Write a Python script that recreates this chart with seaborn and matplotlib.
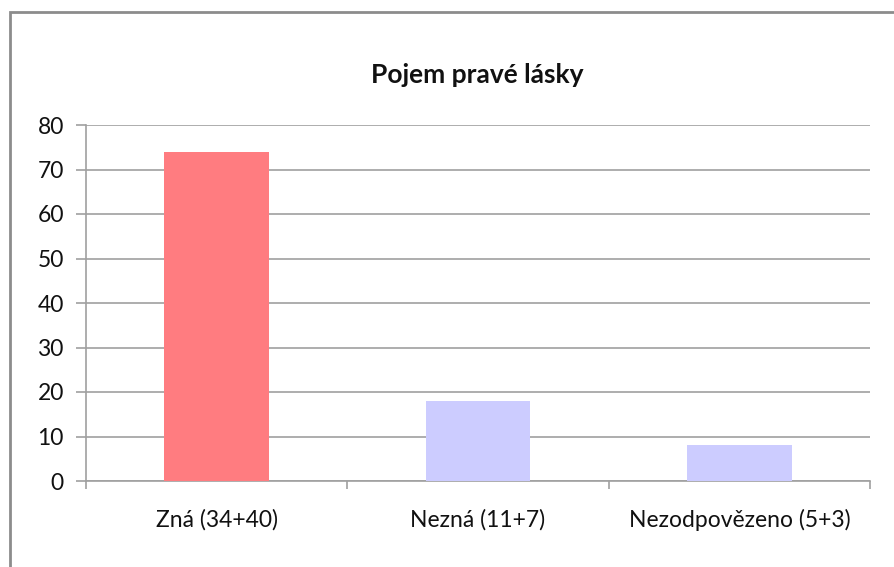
import matplotlib
matplotlib.use("Agg")
import matplotlib.pyplot as plt
import seaborn as sns
import pandas as pd
from matplotlib.patches import Rectangle

categories = ["Zná (34+40)", "Nezná (11+7)", "Nezodpovězeno (5+3)"]
values = [74, 18, 8]
bar_colors = ["#FF7C80", "#CCCCFF", "#CCCCFF"]
title = "Pojem pravé lásky"

sns.set_style("white")
plt.rcParams["font.family"] = ["Lato", "DejaVu Sans"]

df = pd.DataFrame({"cat": categories, "val": values})

fig = plt.figure(figsize=(8.94, 5.67), dpi=100)
ax = fig.add_axes([86 / 894, 86 / 567, 784 / 894, 356 / 567])

sns.barplot(data=df, x="cat", y="val", hue="cat", palette=bar_colors,
            width=0.4, saturation=1, legend=False, ax=ax, zorder=3,
            linewidth=0)

ax.set_ylim(0, 80)
ax.set_yticks(range(0, 81, 10))
ax.set_xlim(-0.5, 2.5)
ax.set_xlabel("")
ax.set_ylabel("")

grid_c = "#a0a0a0"
ax.yaxis.grid(True, color=grid_c, linewidth=1.2, zorder=0)
ax.set_axisbelow(True)
for s in ["top", "right"]:
    ax.spines[s].set_visible(False)
for s in ["left", "bottom"]:
    ax.spines[s].set_color(grid_c)
    ax.spines[s].set_linewidth(1.2)

ax.tick_params(axis="y", length=7, width=1.2, color=grid_c, labelsize=16.5,
               pad=9, left=True, labelcolor="#111111")
ax.tick_params(axis="x", which="major", length=0, labelsize=16.5, pad=20,
               labelcolor="#111111")
ax.set_xticks([-0.5, 0.5, 1.5, 2.5], minor=True)
ax.tick_params(axis="x", which="minor", length=6, width=1.2, color=grid_c,
               bottom=True)

fig.text(477 / 894, 1 - 75 / 567, title, ha="center", va="center",
         fontsize=19, fontweight="bold", color="#111111")

# outer chart border (extends beyond the image at right and bottom)
fig.patches.append(Rectangle((10 / 894, -0.1), 1.1, 1 - 12 / 567 + 0.1,
                             transform=fig.transFigure, fill=False,
                             edgecolor="#8c8c8c", linewidth=2))

fig.savefig("out.png", dpi=100)
